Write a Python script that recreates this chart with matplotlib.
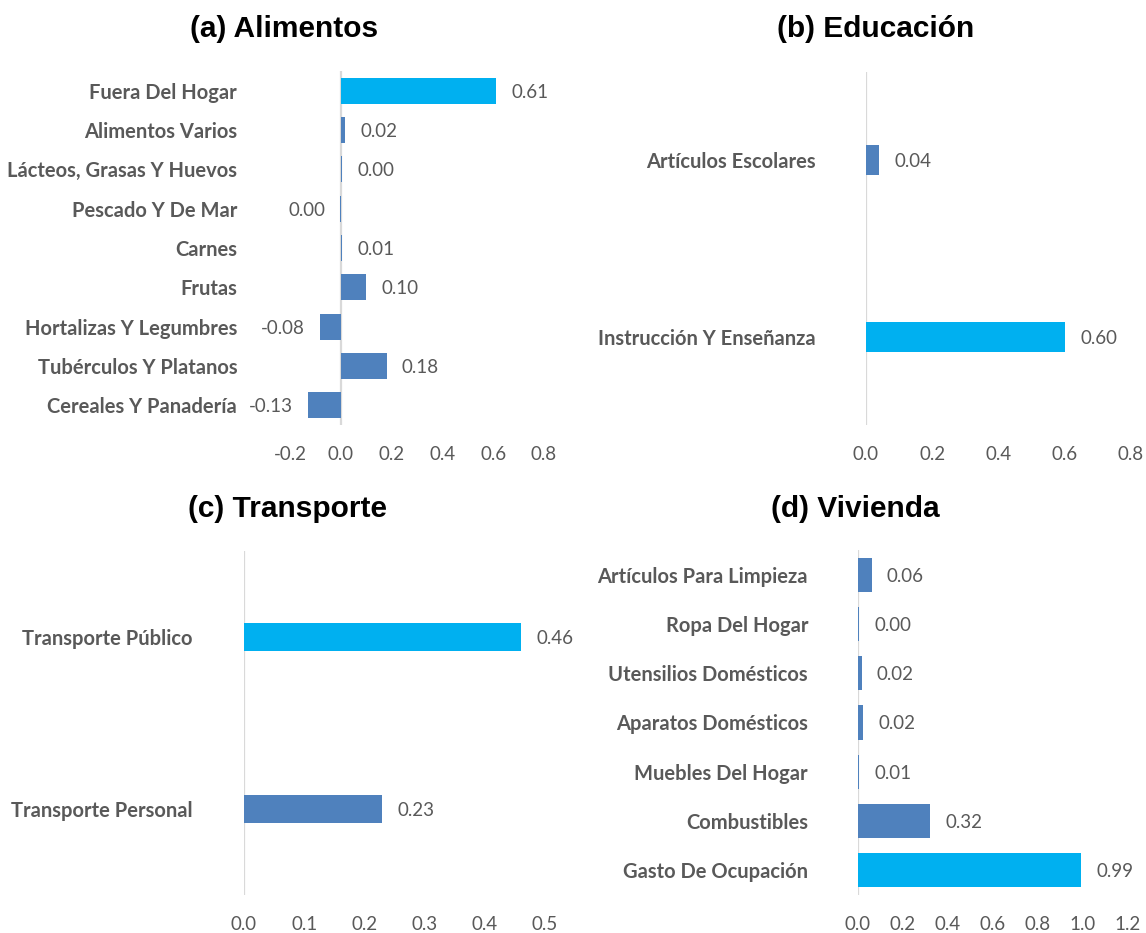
import matplotlib
matplotlib.use("Agg")
import matplotlib.pyplot as plt

plt.rcParams["axes.unicode_minus"] = False

# Panel (a) Alimentos, listed top to bottom
alim_cats = ["Fuera Del Hogar", "Alimentos Varios", "Lácteos, Grasas Y Huevos",
             "Pescado Y De Mar", "Carnes", "Frutas", "Hortalizas Y Legumbres",
             "Tubérculos Y Platanos", "Cereales Y Panadería"]
alim_vals = [0.61, 0.018, 0.004, -0.002, 0.006, 0.10, -0.08, 0.18, -0.13]
alim_ticks = [-0.2, 0.0, 0.2, 0.4, 0.6, 0.8]

# Panel (b) Educación
edu_cats = ["Artículos Escolares", "Instrucción Y Enseñanza"]
edu_vals = [0.04, 0.60]
edu_ticks = [0.0, 0.2, 0.4, 0.6, 0.8]

# Panel (c) Transporte
trans_cats = ["Transporte Público", "Transporte Personal"]
trans_vals = [0.46, 0.23]
trans_ticks = [0.0, 0.1, 0.2, 0.3, 0.4, 0.5]

# Panel (d) Vivienda
viv_cats = ["Artículos Para Limpieza", "Ropa Del Hogar", "Utensilios Domésticos",
            "Aparatos Domésticos", "Muebles Del Hogar", "Combustibles",
            "Gasto De Ocupación"]
viv_vals = [0.06, 0.004, 0.016, 0.024, 0.006, 0.32, 0.99]
viv_ticks = [0.0, 0.2, 0.4, 0.6, 0.8, 1.0, 1.2]

BLUE = "#4F81BD"
CYAN = "#00B0F0"
GRAY = "#595959"
LINE = "#D9D9D9"

W, H = 1146, 933
fig = plt.figure(figsize=(W / 100, H / 100), dpi=100)


def px_axes(left, right, top, bottom):
    return fig.add_axes([left / W, 1 - bottom / H, (right - left) / W, (bottom - top) / H])


def fmt(v):
    s = f"{v:.2f}"
    return "0.00" if s == "-0.00" else s


def panel(ax, cats, vals, ticks, height, label_pad):
    n = len(cats)
    top_val = max(vals)
    colors = [CYAN if v == top_val else BLUE for v in vals]
    ys = list(range(n))
    ax.barh(ys, vals, height=height, color=colors, edgecolor="none", zorder=2)
    ax.axvline(0, color=LINE, lw=1.6, zorder=1)
    for y, v in zip(ys, vals):
        off = -11 if v < 0 else 11
        ax.annotate(fmt(v), (v, y), xytext=(off, -1), textcoords="offset points",
                    ha="right" if v < 0 else "left", va="center",
                    fontsize=13.5, color=GRAY, family="Lato")
    ax.set_ylim(n - 0.5, -0.5)
    ax.set_xlim(ticks[0], ticks[-1])
    ax.set_xticks(ticks)
    ax.set_xticklabels([f"{t:.1f}" for t in ticks], fontsize=13.5, color=GRAY,
                       family="Lato")
    ax.set_yticks(ys)
    ax.set_yticklabels(cats, fontsize=14.5, color=GRAY, family="Lato",
                       fontweight="bold")
    ax.tick_params(axis="x", length=0, pad=15)
    ax.tick_params(axis="y", length=0, pad=label_pad)
    for s in ax.spines.values():
        s.set_visible(False)
    ax.set_facecolor("none")


ax_a = px_axes(290, 544, 71, 425)
panel(ax_a, alim_cats, alim_vals, alim_ticks, 0.66, 38)

ax_b = px_axes(866, 1131, 72, 425)
panel(ax_b, edu_cats, edu_vals, edu_ticks, 0.17, 36)

ax_c = px_axes(244, 545, 551, 895)
panel(ax_c, trans_cats, trans_vals, trans_ticks, 0.165, 37)

ax_d = px_axes(858, 1128, 550, 895)
panel(ax_d, viv_cats, viv_vals, viv_ticks, 0.69, 36)

title_kw = dict(fontsize=21.5, fontweight="bold", family="Liberation Sans",
                ha="center", va="center", color="black")
fig.text(284 / W, 1 - 29 / H, "(a) Alimentos", **title_kw)
fig.text(876 / W, 1 - 29 / H, "(b) Educación", **title_kw)
fig.text(287 / W, 1 - 509 / H, "(c) Transporte", **title_kw)
fig.text(855 / W, 1 - 509 / H, "(d) Vivienda", **title_kw)

fig.savefig("out.png", dpi=100, facecolor="white")
